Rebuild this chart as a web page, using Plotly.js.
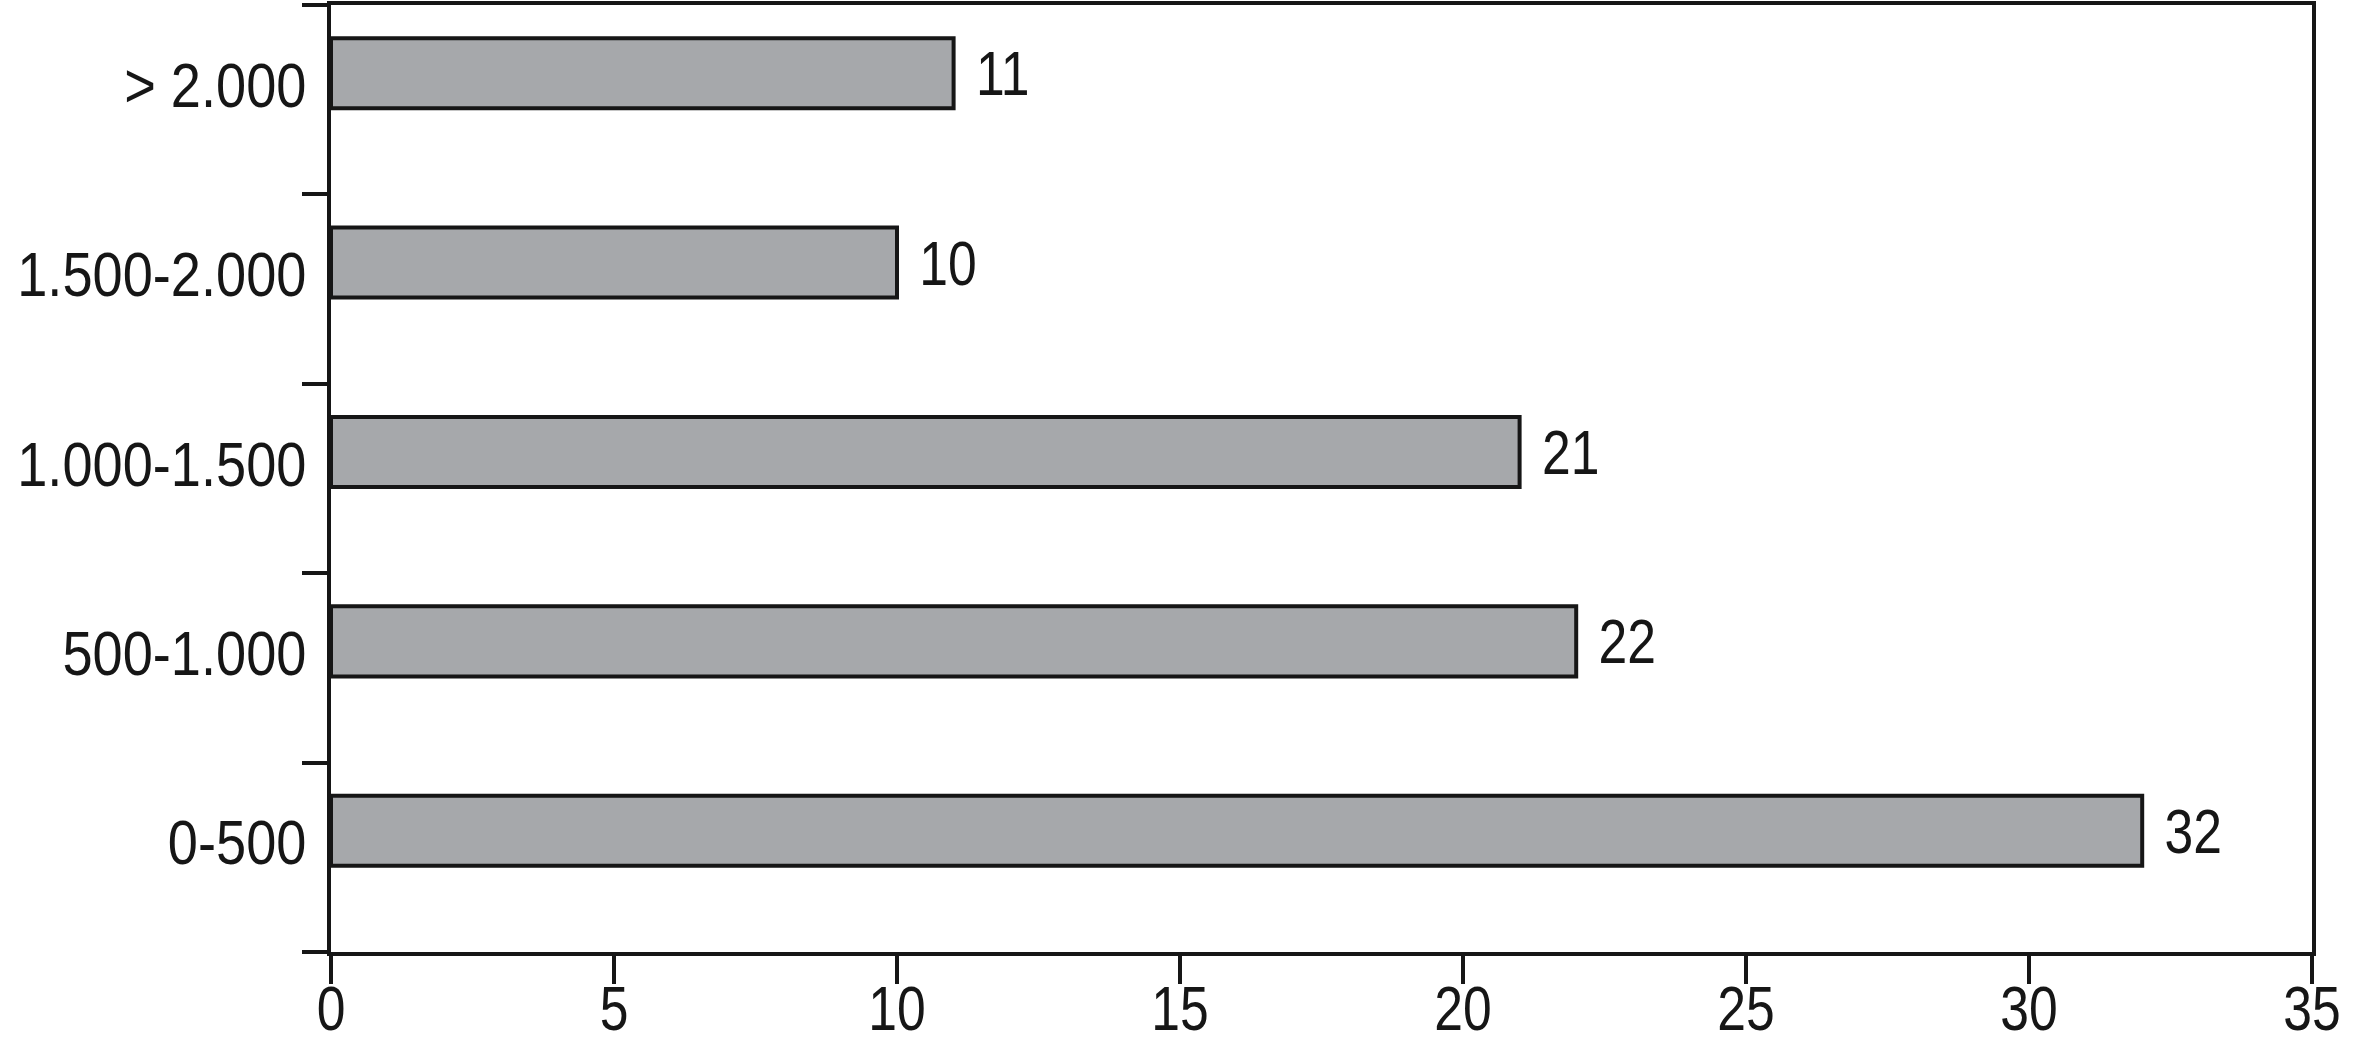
<!DOCTYPE html>
<html>
<head>
<meta charset="utf-8">
<script src="https://cdn.plot.ly/plotly-3.0.1.min.js"></script>
<style>
  html, body { margin: 0; padding: 0; background: #ffffff; }
  #chart { width: 2362px; height: 1057px; }
</style>
</head>
<body>
<div id="chart"></div>
<script>
const categories = ['0-500', '500-1.000', '1.000-1.500', '1.500-2.000', '> 2.000'];
const values = [32, 22, 21, 10, 11];
const xTickValues = [0, 5, 10, 15, 20, 25, 30, 35];

const FONT = '"Liberation Sans", Arial, sans-serif';

const trace = {
  type: 'bar',
  orientation: 'h',
  y: categories,
  x: values,
  width: 0.37,
  offset: -0.045,
  marker: { color: '#a6a8ab', line: { color: '#161616', width: 4 } },
  text: values.map(v => '\u00a0' + v),
  texttemplate: '%{text}',
  textposition: 'outside',
  constraintext: 'none',
  cliponaxis: false,
  textfont: { family: FONT, size: 63, color: '#161616' },
  hoverinfo: 'none'
};

const layout = {
  width: 2362,
  height: 1057,
  margin: { l: 331, r: 50, t: 5, b: 105 },
  paper_bgcolor: '#ffffff',
  plot_bgcolor: '#ffffff',
  showlegend: false,
  font: { family: FONT, size: 63, color: '#161616' },
  xaxis: {
    range: [0, 35],
    tickvals: xTickValues,
    ticktext: xTickValues.map(String),
    ticks: 'outside',
    ticklen: 28,
    tickwidth: 4,
    tickcolor: '#161616',
    showline: true,
    linecolor: '#161616',
    linewidth: 4,
    mirror: true,
    showgrid: false,
    zeroline: false,
    ticklabelstandoff: -30,
    tickfont: { family: FONT, size: 63, color: '#161616' }
  },
  yaxis: {
    type: 'category',
    categoryorder: 'array',
    categoryarray: categories,
    range: [-0.5, 4.5],
    tickson: 'boundaries',
    ticks: 'outside',
    ticklen: 25,
    tickwidth: 4,
    tickcolor: '#161616',
    showline: true,
    linecolor: '#161616',
    linewidth: 4,
    mirror: true,
    showgrid: false,
    zeroline: false,
    ticklabelstandoff: 8,
    tickfont: { family: FONT, size: 63, color: '#161616' }
  }
};

// Condense text horizontally to imitate the narrow typeface of the original.
function condense(gd) {
  const apply = (el, mode, s, dx, dy) => {
    const bb = el.getBBox();
    let px;
    if (mode === 'start') px = bb.x;
    else if (mode === 'end') px = bb.x + bb.width;
    else px = bb.x + bb.width / 2;
    const prev = el.getAttribute('transform') || '';
    el.setAttribute('transform',
      (prev + ' translate(' + (px + dx) + ',' + dy + ') scale(' + s + ',1) translate(' + (-px) + ',0)').trim());
  };
  gd.querySelectorAll('.ytick text').forEach(el => apply(el, 'end', 0.86, 0, -15));
  gd.querySelectorAll('.xtick text').forEach(el => apply(el, 'middle', 0.82, 0, 0));
  gd.querySelectorAll('text.bartext').forEach(el => apply(el, 'start', 0.82, 5, 0));
}

Plotly.newPlot('chart', [trace], layout, { staticPlot: true, displayModeBar: false })
  .then(gd => condense(gd));
</script>
</body>
</html>
